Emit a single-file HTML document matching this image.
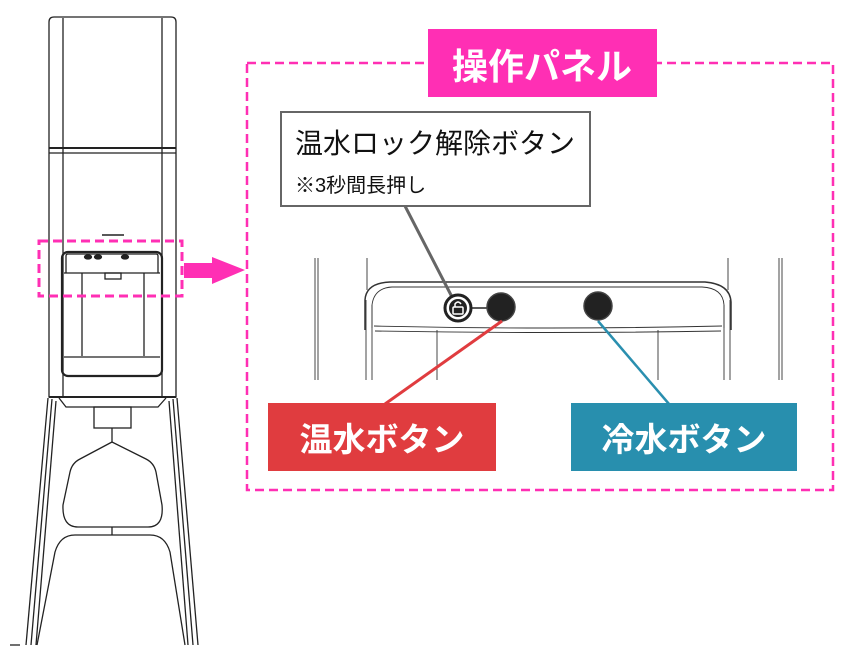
<!DOCTYPE html>
<html><head><meta charset="utf-8"><style>
html,body{margin:0;padding:0;background:#fff;}
svg{display:block;}
text{font-family:"Liberation Sans","Noto Sans CJK JP",sans-serif;}
</style></head><body>
<svg width="858" height="650" viewBox="0 0 858 650" xmlns="http://www.w3.org/2000/svg">
<g fill="none" stroke="#222" stroke-width="1.3">
 <!-- body -->
 <path d="M49 397 V22 Q49 17 54 17 H171 Q176 17 176 22 V397 Z"/>
 <line x1="63" y1="18" x2="63" y2="397"/>
 <line x1="162" y1="18" x2="162" y2="397"/>
 <line x1="49" y1="148" x2="176" y2="148" stroke-width="2"/>
 <line x1="49" y1="153" x2="176" y2="153"/>
 <line x1="102" y1="235" x2="124" y2="235" stroke-width="1.5"/>
 <!-- dispenser window -->
 <rect x="62" y="252" width="100" height="124" rx="6" stroke-width="2.2"/>
 <path d="M66 265 V256 Q66 254 68 254 H156 Q158 254 158 256 V265"/>
 <line x1="64" y1="273" x2="160" y2="273"/>
 <line x1="66" y1="265" x2="66" y2="273"/><line x1="158" y1="265" x2="158" y2="273"/>
 <line x1="82" y1="273" x2="82" y2="356"/>
 <line x1="144" y1="273" x2="144" y2="356"/>
 <line x1="64" y1="357" x2="160" y2="357"/>
 <rect x="105" y="273" width="16" height="6"/>
 <ellipse cx="88" cy="257" rx="3.5" ry="2" fill="#222"/><ellipse cx="98" cy="257" rx="3.5" ry="2" fill="#222"/><ellipse cx="125" cy="257" rx="3.5" ry="2" fill="#222"/>
 <!-- collar -->
 <line x1="49" y1="397" x2="176" y2="397" stroke-width="2"/>
 <path d="M59 398 L66 407 H158 L166 398"/>
 <rect x="94" y="407" width="37" height="21"/>
 <line x1="112" y1="428" x2="112" y2="442"/>
 <path d="M112 442 L80 459 Q72 463 70 472 L63 505 Q62 527 78 527 H148 Q164 527 162 505 L156 472 Q154 463 146 459 Z"/>
 <line x1="112" y1="527" x2="112" y2="535"/>
 <path d="M37 645 L55 552 Q60 535 75 535 H150 Q165 535 170 552 L185 645"/>
 <path d="M26 645 L48 398"/><path d="M31 645 L52 399"/><path d="M36 645 L56 401"/>
 <path d="M198 645 L177 398"/><path d="M193 645 L173 399"/><path d="M188 645 L169 401"/>
 <line x1="10" y1="645" x2="20" y2="645"/>
</g>
<!-- pink -->
<rect x="39" y="241" width="143" height="55" fill="none" stroke="#ff2fb4" stroke-width="3" stroke-dasharray="9 5"/>
<path d="M184 263 H212 V257 L245 270 L212 284 V278 H184 Z" fill="#ff2fb4"/>
<rect x="247" y="63" width="586" height="427" fill="none" stroke="#ff2fb4" stroke-width="2.5" stroke-dasharray="9 5"/>
<rect x="428" y="29" width="229" height="68" fill="#ff2fb4"/>
<text x="542" y="79" font-size="36" font-weight="bold" fill="#fff" text-anchor="middle">操作パネル</text>
<!-- callout -->
<rect x="281" y="112" width="309" height="94" fill="#fff" stroke="#666" stroke-width="2"/>
<text x="295" y="153" font-size="28" fill="#111">温水ロック解除ボタン</text>
<text x="295" y="192" font-size="20" fill="#111">※3秒間長押し</text>
<!-- panel detail -->
<g fill="none" stroke="#333" stroke-width="0.9">
 <line x1="315" y1="258" x2="315" y2="380"/><line x1="318" y1="258" x2="318" y2="380"/>
 <line x1="366" y1="300" x2="366" y2="380"/><line x1="372" y1="305" x2="372" y2="380"/>
 <line x1="437" y1="330" x2="437" y2="380"/><line x1="658" y1="330" x2="658" y2="380"/>
 <line x1="730" y1="300" x2="730" y2="380"/><line x1="724" y1="305" x2="724" y2="380"/>
 <line x1="779" y1="258" x2="779" y2="380"/><line x1="782" y1="258" x2="782" y2="380"/>
 <line x1="367" y1="258" x2="367" y2="290"/><line x1="728" y1="258" x2="728" y2="290"/>
 <path d="M365 330 V300 Q366 283 390 282 H705 Q730 284 731 302 V330" stroke-width="1.5"/>
 <path d="M372 328 V305 Q374 288 392 287 H702 Q723 288 724 305 V328"/>
 <path d="M374 326 Q550 330 722 326"/>
 <path d="M375 331 Q550 334 721 331"/>
</g>
<line x1="405" y1="206" x2="452" y2="297" stroke="#666" stroke-width="3"/>
<line x1="470" y1="308" x2="490" y2="308" stroke="#222" stroke-width="1.5"/>
<circle cx="458" cy="308" r="13" fill="#fff" stroke="#222" stroke-width="3"/>
<circle cx="458" cy="308" r="9" fill="#222"/>
<rect x="453" y="307" width="10" height="7" rx="1" fill="none" stroke="#fff" stroke-width="1.5"/>
<path d="M455 307 V304 Q458 300 461 304" fill="none" stroke="#fff" stroke-width="1.5"/>
<circle cx="501" cy="307" r="14" fill="#222" stroke="#444" stroke-width="1.5"/>
<circle cx="598" cy="306" r="14" fill="#222" stroke="#444" stroke-width="1.5"/>
<line x1="502" y1="321" x2="385" y2="404" stroke="#e03c3f" stroke-width="3"/>
<line x1="598" y1="321" x2="669" y2="404" stroke="#2a8faf" stroke-width="2.5"/>
<rect x="268" y="403" width="228" height="68" fill="#e03c3f"/>
<text x="382" y="451" font-size="33" font-weight="bold" fill="#fff" text-anchor="middle">温水ボタン</text>
<rect x="571" y="403" width="226" height="68" fill="#288fae"/>
<text x="684" y="451" font-size="33" font-weight="bold" fill="#fff" text-anchor="middle">冷水ボタン</text>
</svg>
</body></html>
